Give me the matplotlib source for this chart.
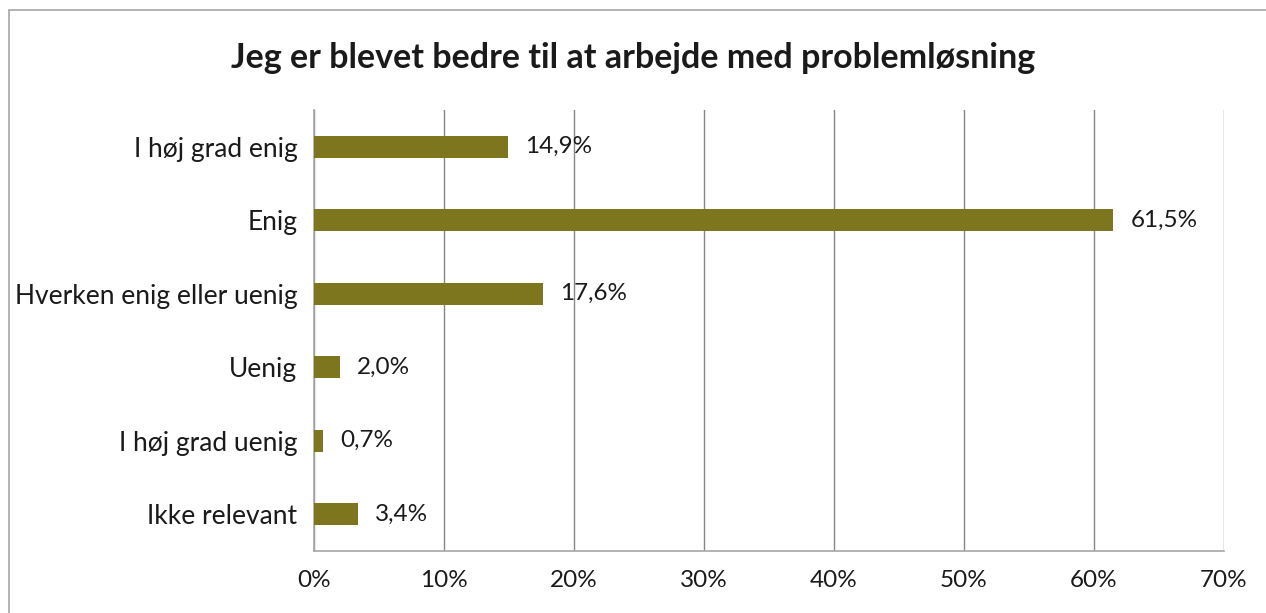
import matplotlib.pyplot as plt
from matplotlib.patches import Rectangle

# data
categories = ["I høj grad enig", "Enig", "Hverken enig eller uenig",
              "Uenig", "I høj grad uenig", "Ikke relevant"]
values = [14.9, 61.5, 17.6, 2.0, 0.7, 3.4]
xticks = [0, 10, 20, 30, 40, 50, 60, 70]
title = "Jeg er blevet bedre til at arbejde med problemløsning"

plt.rcParams["font.family"] = ["Lato", "DejaVu Sans"]

fig = plt.figure(figsize=(12.66, 6.13), dpi=100)
ax = fig.add_axes([0.248, 0.1011, 0.7188, 0.7195])

# outer chart border (left and top, cut at right/bottom)
fig.patches.append(Rectangle((9 / 1266, -0.1), 1.2, 1 - 10 / 613 + 0.1,
                             transform=fig.transFigure, fill=False,
                             edgecolor="#a6a6a6", lw=1.2))

pos = list(range(len(categories)))
ax.barh(pos, values, height=0.3, color="#7e761e", zorder=3)

for p, v in zip(pos, values):
    ax.text(v + 1.3, p, f"{v:.1f}%".replace(".", ","), va="center",
            ha="left", fontsize=17.5, color="#1a1a1a")

ax.set_xlim(0, 70)
ax.set_ylim(len(categories) - 0.5, -0.5)
ax.set_yticks(pos)
ax.set_yticklabels(categories, fontsize=19, color="#1a1a1a")
ax.set_xticks(xticks)
ax.set_xticklabels([f"{t}%" for t in xticks], fontsize=17.5, color="#1a1a1a")
ax.tick_params(length=0)
ax.tick_params(axis="y", pad=12)
ax.tick_params(axis="x", pad=14)

ax.grid(axis="x", color="#868686", lw=1, zorder=0)
for s in ["top", "right"]:
    ax.spines[s].set_visible(False)
for s in ["left", "bottom"]:
    ax.spines[s].set_color("#a6a6a6")
    ax.spines[s].set_linewidth(1.2)

fig.text(0.5, 0.905, title, ha="center", va="center",
         fontsize=24.5, fontweight="bold", color="#1a1a1a")

fig.savefig("out.png", dpi=100)
